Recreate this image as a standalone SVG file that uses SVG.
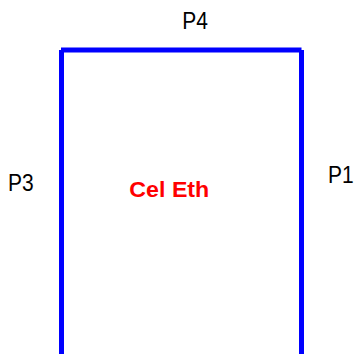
<svg xmlns="http://www.w3.org/2000/svg" width="355" height="354" viewBox="0 0 355 354">
<style>
.wall{stroke:#0000ff;stroke-width:5;fill:none;stroke-linecap:butt}
.lbl{font-family:"Liberation Sans",Arial,sans-serif;font-size:21px;fill:#000}
.name{font-family:"Liberation Sans",Arial,sans-serif;font-size:23.2px;font-weight:bold;fill:#ff0000}
</style>
<rect width="355" height="354" fill="#fff"/>
<g id="connectors">
<line class="wall" x1="61.5" y1="50" x2="61.5" y2="354"/>
<line class="wall" x1="61" y1="50" x2="301.5" y2="50"/>
<line class="wall" x1="301.5" y1="50" x2="301.5" y2="354"/>
</g>
<g id="node-cel-eth"><text class="name" transform="translate(169.3,196.7) scale(1,0.97)" text-anchor="middle">Cel Eth</text></g>
<g id="node-p4"><text class="lbl" transform="translate(195,29) scale(1,1.1)" text-anchor="middle">P4</text></g>
<g id="node-p3"><text class="lbl" transform="translate(20.8,191) scale(1,1.1)" text-anchor="middle">P3</text></g>
<g id="node-p1"><text class="lbl" transform="translate(328,183) scale(1,1.1)" text-anchor="start">P1</text></g>
</svg>
